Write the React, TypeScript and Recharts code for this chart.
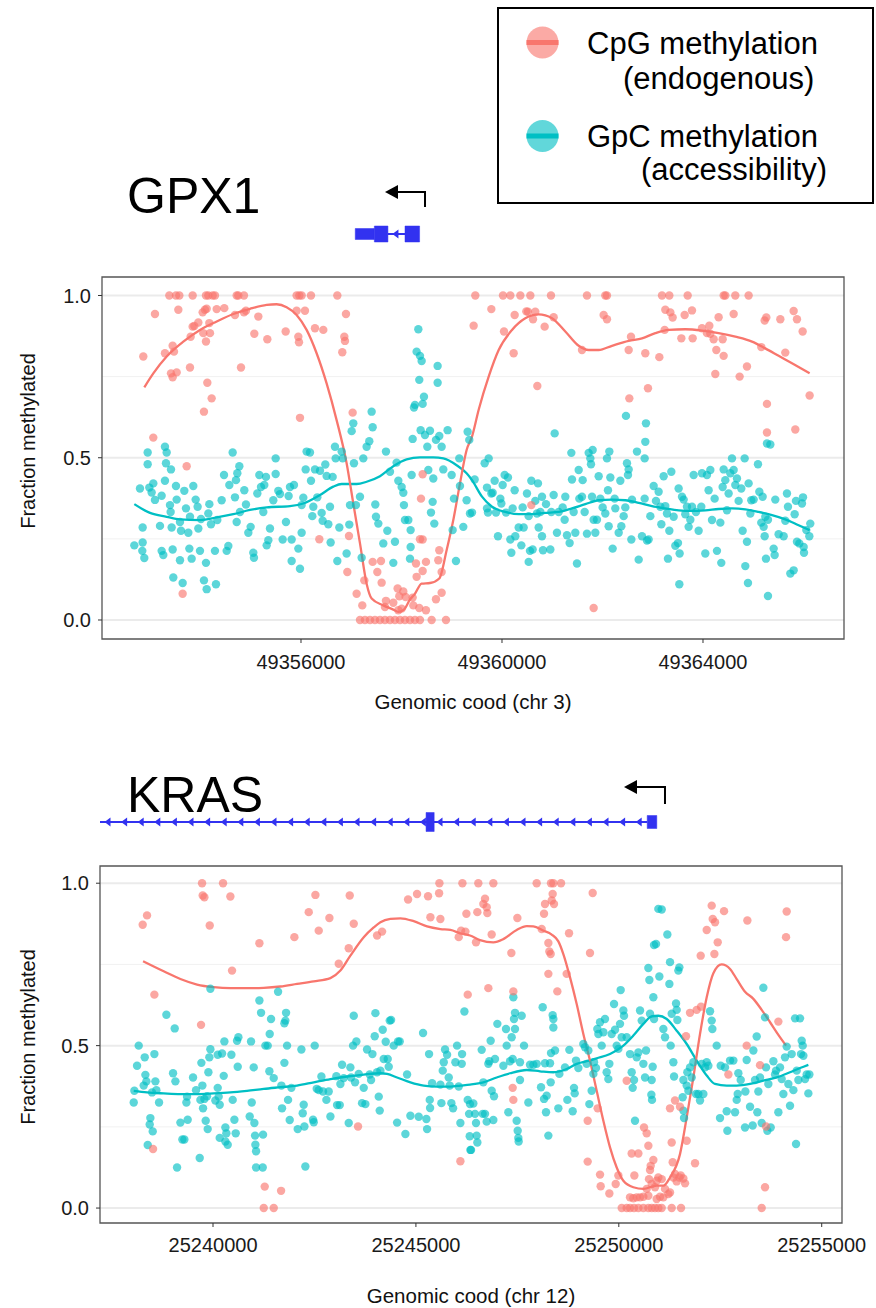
import React from 'react';
import {
  ComposedChart,
  Scatter,
  Line,
  XAxis,
  YAxis,
  CartesianGrid,
  ReferenceArea,
  ReferenceLine,
} from 'recharts';

const RED = '#F8766D';
const TEAL = '#00BFC4';
const GENE = '#3232F0';
const FONT = '"Liberation Sans", Arial, Helvetica, sans-serif';

// ---- GPX1 (chr 3) : [position, fraction methylated] ----
const gpx1Cpg: number[][] = [
  [49353380, 1], [49353512, 1], [49353579, 1], [49353844, 1], [49354109, 1], [49354156, 1], [49354242, 1], [49354288, 1],
  [49354720, 1], [49354753, 1], [49354865, 1], [49355913, 1], [49355967, 1], [49356013, 1], [49356199, 1], [49356723, 1],
  [49353094, 0.943], [49353559, 0.956], [49354043, 0.948], [49354089, 0.956], [49354123, 0.959], [49354322, 0.958],
  [49354474, 0.961], [49354686, 0.94], [49354865, 0.948], [49354905, 0.953], [49355151, 0.935], [49355913, 0.953],
  [49356079, 0.953], [49356895, 0.943], [49353446, 0.845], [49353293, 0.822], [49352862, 0.812], [49353473, 0.827],
  [49353804, 0.873], [49353844, 0.904], [49353877, 0.906], [49353957, 0.917], [49354056, 0.884], [49354109, 0.858],
  [49354176, 0.915], [49354189, 0.884], [49353413, 0.76], [49353446, 0.748], [49353526, 0.763], [49353791, 0.778],
  [49354136, 0.731], [49354222, 0.683], [49354069, 0.642], [49354806, 0.778], [49355071, 0.882], [49355330, 0.865],
  [49355695, 0.889], [49355947, 0.873], [49355960, 0.856], [49356278, 0.899], [49356444, 0.894], [49356862, 0.873],
  [49356875, 0.86], [49356822, 0.825], [49355980, 0.623], [49353061, 0.562], [49353725, 0.474], [49353645, 0.081],
  [49357028, 0.639], [49356955, 0.259], [49356365, 0.249], [49356922, 0.148], [49357260, 0.122], [49357426, 0.179],
  [49357592, 0.182], [49357519, 0.148], [49357605, 0.115], [49357107, 0.081], [49357220, 0.045], [49357691, 0.059],
  [49357671, 0.04], [49357837, 0.053], [49357923, 0.097], [49358036, 0.088], [49357956, 0.073], [49358288, 0.174],
  [49358421, 0.151], [49358487, 0.179], [49358301, 0.133], [49358235, 0.045], [49358354, 0.037], [49358487, 0.03],
  [49357937, 0.03], [49358003, 0.035], [49358082, 0.071], [49358222, 0.069], [49358686, 0.064], [49358752, 0.215],
  [49358732, 0.184], [49358799, 0.148], [49358799, 0.084], [49358421, 0.248], [49358368, 0.249], [49358388, 0.374],
  [49358421, 0.449],
  [49357174, 0], [49357273, 0], [49357373, 0], [49357472, 0], [49357572, 0], [49357671, 0], [49357771, 0], [49357870, 0],
  [49357970, 0], [49358069, 0], [49358169, 0], [49358268, 0], [49358368, 0], [49358600, 0], [49358885, 0],
  [49359469, 1], [49360020, 1], [49360166, 1], [49360365, 1], [49360564, 1], [49360975, 1], [49361691, 1], [49362056, 1],
  [49362089, 1], [49363184, 1], [49363330, 1], [49363695, 1], [49364411, 1], [49364444, 1], [49364643, 1], [49364908, 1],
  [49359436, 0.907], [49359788, 0.958], [49360040, 0.889], [49360252, 0.94], [49360232, 0.822], [49360484, 0.951],
  [49360517, 0.95], [49360617, 0.927], [49360663, 0.95], [49360849, 0.904], [49361028, 0.933], [49360703, 0.721],
  [49361592, 0.832], [49362023, 0.94], [49362089, 0.927], [49362521, 0.832], [49362567, 0.873], [49362534, 0.683],
  [49362852, 0.822], [49362905, 0.714], [49363131, 0.81], [49363250, 0.956], [49363237, 0.894], [49363350, 0.948],
  [49363396, 0.932], [49363569, 0.868], [49363635, 0.94], [49363781, 0.954], [49363794, 0.868], [49363980, 0.899],
  [49364079, 0.884], [49364126, 0.907], [49364146, 0.882], [49364212, 0.865], [49364265, 0.832], [49364311, 0.933],
  [49364391, 0.865], [49364411, 0.814], [49364245, 0.758], [49364610, 0.943], [49364729, 0.75], [49364875, 0.781],
  [49365160, 0.841], [49365227, 0.923], [49365260, 0.932], [49365539, 0.927], [49365638, 0.824], [49365804, 0.952],
  [49365870, 0.927], [49365983, 0.889], [49365273, 0.666], [49365273, 0.578], [49365837, 0.587], [49366122, 0.692],
  [49360584, 0.354], [49361824, 0.037],
];

const gpx1Gpc: number[][] = [
  [49352683, 0.23], [49352849, 0.239], [49352882, 0.191], [49352842, 0.213], [49352849, 0.285], [49352796, 0.405],
  [49352949, 0.516], [49352949, 0.48], [49352982, 0.408], [49353028, 0.393], [49353061, 0.421], [49353094, 0.37],
  [49353227, 0.383], [49353194, 0.29], [49353227, 0.213], [49353260, 0.2], [49353293, 0.534], [49353327, 0.516],
  [49353313, 0.483], [49353293, 0.429], [49353413, 0.464], [49353393, 0.354], [49353406, 0.333], [49353446, 0.217],
  [49353426, 0.285], [49353459, 0.131], [49353512, 0.413], [49353526, 0.371], [49353592, 0.302], [49353612, 0.275],
  [49353592, 0.184], [49353645, 0.114], [49353678, 0.398], [49353711, 0.344], [49353758, 0.269], [49353778, 0.22],
  [49353791, 0.318], [49353824, 0.189], [49353857, 0.413], [49353904, 0.371], [49353943, 0.349], [49353957, 0.282],
  [49353990, 0.213], [49354010, 0.311], [49354069, 0.122], [49354123, 0.095], [49354109, 0.176], [49354156, 0.328],
  [49354176, 0.357], [49354209, 0.295], [49354288, 0.213], [49354308, 0.11], [49354335, 0.308], [49354421, 0.369],
  [49354468, 0.447], [49354521, 0.213], [49354554, 0.228], [49354574, 0.416], [49354640, 0.516], [49354686, 0.378],
  [49354706, 0.431], [49354733, 0.452], [49354773, 0.474], [49354720, 0.302], [49354786, 0.333], [49354872, 0.4],
  [49354905, 0.356], [49354952, 0.269], [49354998, 0.287], [49355051, 0.207], [49355064, 0.192], [49355131, 0.39],
  [49355171, 0.447], [49355204, 0.41], [49355250, 0.333], [49355270, 0.416], [49355303, 0.441], [49355317, 0.23],
  [49355350, 0.246], [49355383, 0.282], [49355449, 0.369], [49355496, 0.498], [49355496, 0.45], [49355549, 0.398],
  [49355582, 0.388], [49355635, 0.248], [49355701, 0.302], [49355754, 0.382], [49355781, 0.41], [49355814, 0.248],
  [49355814, 0.182], [49355860, 0.416], [49355947, 0.22], [49355980, 0.158], [49356013, 0.269], [49356013, 0.354],
  [49356046, 0.377], [49356093, 0.464], [49356112, 0.519], [49356179, 0.516], [49356199, 0.429], [49356225, 0.32],
  [49356245, 0.349], [49356278, 0.464], [49356325, 0.378], [49356378, 0.46], [49356411, 0.33], [49356431, 0.306],
  [49356484, 0.479], [49356510, 0.444], [49356544, 0.295], [49356577, 0.349], [49356590, 0.239], [49356630, 0.441],
  [49356676, 0.534], [49356690, 0.498], [49356723, 0.182], [49356763, 0.285], [49356809, 0.519], [49356829, 0.498],
  [49356961, 0.294], [49356975, 0.354], [49357008, 0.582], [49357041, 0.606], [49357054, 0.483], [49357094, 0.354],
  [49356908, 0.205], [49357207, 0.192], [49357174, 0.38], [49357240, 0.498], [49357306, 0.534], [49357359, 0.551],
  [49357406, 0.642], [49357426, 0.594], [49357479, 0.356], [49357492, 0.318], [49357539, 0.297], [49357638, 0.236],
  [49357691, 0.519], [49357718, 0.275], [49357771, 0.457], [49357837, 0.176], [49357870, 0.241], [49357903, 0.485],
  [49357937, 0.429], [49358003, 0.41], [49358036, 0.392], [49358049, 0.354], [49358069, 0.308], [49358136, 0.308],
  [49358169, 0.189], [49358182, 0.225], [49358202, 0.447], [49358182, 0.277], [49358222, 0.558], [49358248, 0.655],
  [49358268, 0.663], [49358301, 0.827], [49358335, 0.896], [49358368, 0.814], [49358401, 0.798], [49358421, 0.666],
  [49358447, 0.688], [49358354, 0.74], [49358381, 0.585], [49358467, 0.57], [49358514, 0.534], [49358534, 0.462],
  [49358567, 0.583], [49358633, 0.436], [49358620, 0.364], [49358587, 0.331], [49358653, 0.297], [49358686, 0.555],
  [49358719, 0.783], [49358719, 0.731], [49358752, 0.567], [49358799, 0.534], [49358832, 0.464], [49358918, 0.585],
  [49358998, 0.447], [49359018, 0.277], [49359044, 0.374], [49359084, 0.182], [49359150, 0.498], [49359164, 0.413],
  [49359230, 0.287], [49359296, 0.369], [49359316, 0.58], [49359363, 0.328], [49359349, 0.555],
  [49359403, 0.331], [49359456, 0.433], [49359655, 0.483], [49359735, 0.498], [49359701, 0.408], [49359701, 0.344],
  [49359721, 0.331], [49359788, 0.39], [49359814, 0.392], [49359854, 0.429], [49359881, 0.331], [49359920, 0.258],
  [49359967, 0.374], [49359987, 0.359], [49360013, 0.416], [49360053, 0.447], [49360080, 0.331], [49360119, 0.439],
  [49360186, 0.207], [49360166, 0.248], [49360212, 0.344], [49360252, 0.4], [49360265, 0.258], [49360332, 0.285],
  [49360385, 0.23], [49360411, 0.347], [49360431, 0.285], [49360497, 0.39], [49360531, 0.179], [49360557, 0.213],
  [49360531, 0.32], [49360584, 0.429], [49360610, 0.217], [49360663, 0.367], [49360696, 0.328], [49360716, 0.421],
  [49360730, 0.285], [49360763, 0.333], [49360796, 0.258], [49360816, 0.215], [49360796, 0.38], [49360876, 0.357],
  [49360962, 0.217], [49360982, 0.333], [49361028, 0.385], [49361048, 0.575], [49361094, 0.269], [49361128, 0.333],
  [49361207, 0.347], [49361247, 0.309], [49361260, 0.38], [49361293, 0.261], [49361346, 0.237], [49361380, 0.515],
  [49361393, 0.433], [49361426, 0.333], [49361459, 0.269], [49361492, 0.174], [49361526, 0.462], [49361539, 0.374],
  [49361592, 0.38], [49361605, 0.431], [49361645, 0.333], [49361691, 0.266], [49361725, 0.515], [49361758, 0.498],
  [49361771, 0.48], [49361804, 0.524], [49361791, 0.38], [49361824, 0.309], [49361857, 0.269], [49361890, 0.309],
  [49361924, 0.443], [49361957, 0.374], [49362003, 0.347], [49362056, 0.328], [49362089, 0.498], [49362109, 0.4],
  [49362123, 0.289], [49362136, 0.519], [49362156, 0.439], [49362202, 0.22], [49362242, 0.374], [49362255, 0.344],
  [49362322, 0.269], [49362355, 0.429], [49362375, 0.289], [49362421, 0.32], [49362454, 0.347], [49362467, 0.629],
  [49362487, 0.483], [49362507, 0.447], [49362521, 0.464], [49362574, 0.248], [49362587, 0.371], [49362686, 0.519],
  [49362720, 0.186], [49362786, 0.258], [49362839, 0.374], [49362852, 0.549], [49362865, 0.606], [49362839, 0.498],
  [49362885, 0.245], [49362918, 0.248], [49362952, 0.32], [49363018, 0.413], [49363064, 0.367], [49363117, 0.395],
  [49363151, 0.349], [49363171, 0.295], [49363217, 0.443], [49363250, 0.351], [49363283, 0.328], [49363303, 0.189],
  [49363330, 0.275], [49363370, 0.457], [49363416, 0.318], [49363449, 0.229], [49363502, 0.237], [49363515, 0.405],
  [49363535, 0.205], [49363529, 0.11], [49363582, 0.38], [49363615, 0.371], [49363648, 0.326], [49363681, 0.349],
  [49363714, 0.287], [49363748, 0.309], [49363781, 0.349], [49363814, 0.447], [49363860, 0.333], [49363913, 0.275],
  [49363966, 0.349], [49363980, 0.452], [49364046, 0.205], [49364079, 0.447], [49364112, 0.4], [49364146, 0.462],
  [49364179, 0.308], [49364232, 0.374], [49364278, 0.213], [49364345, 0.3], [49364364, 0.176], [49364391, 0.41],
  [49364411, 0.464], [49364444, 0.431], [49364477, 0.338], [49364510, 0.39], [49364544, 0.452], [49364577, 0.498],
  [49364610, 0.462], [49364643, 0.416], [49364676, 0.436], [49364709, 0.367], [49364762, 0.405], [49364789, 0.275],
  [49364829, 0.498], [49364842, 0.166], [49364875, 0.241], [49364895, 0.114], [49364908, 0.421], [49364942, 0.328],
  [49364961, 0.369], [49365008, 0.371], [49365094, 0.48], [49365121, 0.395], [49365160, 0.3], [49365187, 0.38],
  [49365240, 0.318], [49365227, 0.258], [49365253, 0.189], [49365273, 0.544], [49365340, 0.541], [49365293, 0.074],
  [49365406, 0.22], [49365426, 0.2], [49365439, 0.371], [49365505, 0.264], [49365605, 0.258], [49365638, 0.306],
  [49365671, 0.39], [49365691, 0.349], [49365738, 0.143], [49365804, 0.153], [49365824, 0.326], [49365850, 0.367],
  [49365870, 0.241], [49365917, 0.236], [49366003, 0.225], [49365970, 0.359], [49365990, 0.378], [49366010, 0.207],
  [49366056, 0.277], [49366135, 0.297], [49366116, 0.258], [49365293, 0.309], [49365207, 0.287],
];

const gpx1CpgFit: number[][] = [
  [49352882, 0.717], [49353061, 0.76], [49353327, 0.812], [49353658, 0.858], [49353990, 0.894], [49354322, 0.92],
  [49354653, 0.943], [49354985, 0.959], [49355317, 0.971], [49355515, 0.973], [49355714, 0.964], [49355913, 0.94],
  [49356112, 0.894], [49356311, 0.822], [49356510, 0.729], [49356709, 0.616], [49356908, 0.483], [49357041, 0.359],
  [49357174, 0.236], [49357306, 0.112], [49357406, 0.066], [49357638, 0.045], [49357837, 0.032], [49357937, 0.025],
  [49358049, 0.032], [49358169, 0.063], [49358268, 0.081], [49358401, 0.112], [49358567, 0.114], [49358752, 0.128],
  [49358898, 0.215], [49359031, 0.308], [49359164, 0.421], [49359296, 0.524], [49359403, 0.565], [49359536, 0.648],
  [49359735, 0.75], [49359934, 0.832], [49360199, 0.894], [49360464, 0.93], [49360730, 0.942], [49360995, 0.93],
  [49361260, 0.889], [49361526, 0.845], [49361725, 0.832], [49361924, 0.832], [49362189, 0.845], [49362521, 0.86],
  [49362786, 0.868], [49363051, 0.884], [49363316, 0.894], [49363648, 0.896], [49363980, 0.892], [49364311, 0.884],
  [49364643, 0.873], [49364975, 0.858], [49365240, 0.837], [49365505, 0.814], [49365771, 0.791], [49366122, 0.76],
];

const gpx1GpcFit: number[][] = [
  [49352683, 0.357], [49352995, 0.33], [49353327, 0.318], [49353592, 0.31], [49353990, 0.308], [49354322, 0.316],
  [49354653, 0.326], [49354985, 0.339], [49355317, 0.347], [49355781, 0.351], [49356046, 0.359], [49356378, 0.385],
  [49356643, 0.411], [49356809, 0.419], [49357107, 0.419], [49357306, 0.426], [49357572, 0.443], [49357837, 0.474],
  [49358102, 0.495], [49358368, 0.501], [49358633, 0.501], [49358832, 0.498], [49359097, 0.477], [49359296, 0.452],
  [49359403, 0.431], [49359602, 0.38], [49359801, 0.349], [49360066, 0.333], [49360332, 0.326], [49360597, 0.326],
  [49360862, 0.33], [49361128, 0.333], [49361393, 0.344], [49361658, 0.357], [49361924, 0.369], [49362189, 0.371],
  [49362454, 0.369], [49362720, 0.361], [49362985, 0.351], [49363250, 0.344], [49363515, 0.338], [49363781, 0.336],
  [49364046, 0.338], [49364311, 0.342], [49364577, 0.344], [49364842, 0.341], [49365107, 0.333], [49365373, 0.323],
  [49365638, 0.31], [49365903, 0.292], [49366122, 0.277],
];

// ---- KRAS (chr 12) ----
const krasCpg: number[][] = [
  [25238267, 0.872], [25238374, 0.901], [25238555, 0.657], [25238522, 0.182], [25239705, 0.564], [25239730, 1],
  [25239746, 0.962], [25239787, 0.957], [25239919, 0.87], [25240247, 1], [25240428, 0.959], [25240469, 0.731],
  [25241143, 0.815], [25241274, 0.066], [25241250, 0], [25241496, 0], [25241677, 0.053], [25242005, 0.834],
  [25242359, 0.911], [25242523, 0.964], [25242605, 0.854], [25242868, 0.893], [25243098, 0.752], [25243344, 0.8],
  [25243369, 0.962], [25243468, 0.875], [25243574, 0.251], [25244043, 0.839], [25244166, 0.851], [25244807, 0.95],
  [25245028, 0.967], [25245299, 0.96], [25245357, 0.895], [25245603, 0.89], [25245579, 1], [25245571, 0.969],
  [25246146, 1], [25246244, 0.906], [25246055, 0.834], [25246113, 0.854], [25246220, 0.851], [25246277, 0.657],
  [25246096, 0.144],
  [25246538, 1], [25246908, 1], [25247976, 1], [25248329, 1], [25248387, 1], [25248576, 1], [25249356, 0.97],
  [25246703, 0.952], [25246662, 0.936], [25246744, 0.926], [25246514, 0.911], [25246760, 0.908], [25246481, 0.818],
  [25246867, 0.842], [25247500, 0.893], [25247352, 0.785], [25248099, 0.859], [25248181, 0.936], [25248157, 0.906],
  [25248264, 0.816], [25248288, 0.79], [25248321, 0.782], [25248370, 0.967], [25248346, 0.947], [25248403, 0.936],
  [25248773, 0.846], [25248715, 0.721], [25248264, 0.721], [25248485, 0.667], [25249290, 0.785], [25246785, 0.677],
  [25247401, 0.667], [25247385, 0.37], [25247401, 0.333], [25249233, 0.269], [25249479, 0.307], [25249233, 0.143],
  [25249537, 0.103], [25249553, 0.067], [25249767, 0.045], [25249923, 0.074], [25249989, 0.1], [25250194, 0.392],
  [25250383, 0.1], [25250317, 0.168], [25250482, 0.168], [25250621, 0.248], [25250687, 0.23], [25250728, 0.192],
  [25250786, 0.13], [25250851, 0.148], [25250769, 0.117], [25250744, 0.089], [25250810, 0.074], [25250687, 0.059],
  [25250892, 0.064], [25250933, 0.084], [25250974, 0.094], [25251057, 0.089], [25251139, 0.059], [25251098, 0.033],
  [25251221, 0.043], [25251262, 0.048], [25251303, 0.202], [25251328, 0.141], [25251344, 0.094], [25251385, 0.105],
  [25251426, 0.082], [25251492, 0.094], [25251525, 0.1], [25251591, 0.091], [25251632, 0.076], [25251673, 0.207],
  [25251656, 0.529], [25251755, 0.601], [25251919, 0.61], [25252026, 0.62], [25251878, 0.138], [25251262, 0.307],
  [25251385, 0.331], [25251508, 0.312], [25252018, 0.777], [25252166, 0.856], [25252289, 0.931], [25252314, 0.89],
  [25252371, 0.88], [25252437, 0.818], [25252355, 0.782], [25252593, 0.914], [25253168, 0.885], [25254137, 0.913],
  [25254121, 0.834], [25253151, 0.5], [25252700, 0.411], [25253480, 0.44], [25253603, 0.064], [25253521, 0],
  [25253932, 0.574], [25253628, 0.251], [25250276, 0.033], [25250358, 0.03], [25250441, 0.033], [25250523, 0.033],
  [25250605, 0.035], [25250728, 0.038], [25250933, 0.028], [25251016, 0.035],
  [25250071, 0], [25250194, 0], [25250276, 0], [25250375, 0], [25250482, 0], [25250605, 0], [25250728, 0],
  [25250810, 0], [25250892, 0], [25250974, 0], [25251057, 0], [25251303, 0], [25251533, 0],
];

const krasGpc: number[][] = [
  [25238046, 0.325], [25238062, 0.361], [25238128, 0.438], [25238169, 0.5], [25238292, 0.377], [25238317, 0.464],
  [25238333, 0.41], [25238358, 0.39], [25238391, 0.194], [25238440, 0.257], [25238456, 0.277], [25238497, 0.356],
  [25238514, 0.236], [25238555, 0.474], [25238580, 0.39], [25238604, 0.363], [25238670, 0.325], [25238851, 0.595],
  [25239015, 0.415], [25239056, 0.553], [25239073, 0.39], [25239114, 0.125], [25239196, 0.263], [25239245, 0.211],
  [25239294, 0.211], [25239344, 0.325], [25239376, 0.272], [25239360, 0.343], [25239508, 0.402], [25239582, 0.363],
  [25239672, 0.154], [25239689, 0.333], [25239713, 0.447], [25239738, 0.377], [25239754, 0.307], [25239787, 0.336],
  [25239820, 0.269], [25239853, 0.344], [25239869, 0.243], [25239886, 0.418], [25239910, 0.464], [25239935, 0.489],
  [25239935, 0.675], [25240058, 0.331], [25240116, 0.37], [25240116, 0.472], [25240140, 0.343], [25240165, 0.318],
  [25240165, 0.216], [25240223, 0.476], [25240264, 0.407], [25240280, 0.513], [25240305, 0.248], [25240305, 0.205],
  [25240329, 0.23], [25240362, 0.195], [25240453, 0.472], [25240485, 0.333], [25240527, 0.272], [25240559, 0.23],
  [25240609, 0.435], [25240592, 0.515], [25240625, 0.526], [25240904, 0.282], [25240937, 0.513], [25240954, 0.325],
  [25241003, 0.433], [25241019, 0.262], [25241036, 0.223], [25241044, 0.195], [25241061, 0.175], [25241061, 0.125],
  [25241143, 0.639], [25241184, 0.601], [25241225, 0.125], [25241233, 0.226], [25241291, 0.5], [25241348, 0.5],
  [25241397, 0.536], [25241430, 0.582], [25241389, 0.421], [25241496, 0.4], [25241603, 0.666], [25241685, 0.377],
  [25241701, 0.307], [25241759, 0.447], [25241759, 0.569], [25241783, 0.577], [25241800, 0.601], [25241825, 0.5],
  [25241849, 0.333], [25241890, 0.271], [25241931, 0.37], [25242087, 0.243], [25242178, 0.488], [25242211, 0.292],
  [25242235, 0.318], [25242252, 0.251], [25242276, 0.128], [25242465, 0.272], [25242482, 0.264], [25242506, 0.5],
  [25242556, 0.367], [25242605, 0.363], [25242671, 0.405], [25242712, 0.359], [25242794, 0.333], [25242851, 0.359],
  [25242893, 0.282], [25243040, 0.406], [25243057, 0.317], [25243123, 0.317], [25243139, 0.382], [25243180, 0.441],
  [25243221, 0.4], [25243344, 0.262], [25243385, 0.433], [25243402, 0.402], [25243451, 0.5], [25243468, 0.592],
  [25243500, 0.387], [25243533, 0.513], [25243591, 0.413], [25243673, 0.323], [25243714, 0.37], [25243755, 0.32],
  [25243796, 0.488], [25243862, 0.411], [25243895, 0.394], [25243928, 0.474], [25243985, 0.529], [25244002, 0.6],
  [25244043, 0.418], [25244084, 0.343], [25244108, 0.3], [25244125, 0.423], [25244182, 0.549], [25244207, 0.459],
  [25244256, 0.512], [25244305, 0.459], [25244330, 0.435], [25244355, 0.577], [25244388, 0.579], [25244453, 0.5],
  [25244560, 0.513], [25244601, 0.513], [25244536, 0.263], [25244782, 0.411], [25244741, 0.228], [25244864, 0.284],
  [25245069, 0.281], [25245176, 0.539], [25245258, 0.274], [25245275, 0.243], [25245324, 0.474], [25245341, 0.333],
  [25245349, 0.308], [25245398, 0.384], [25245603, 0.38], [25245628, 0.323], [25245661, 0.423], [25245686, 0.449],
  [25245718, 0.488], [25245768, 0.472], [25245809, 0.402], [25245833, 0.377], [25245874, 0.323], [25245916, 0.307],
  [25245973, 0.449], [25246014, 0.5], [25246055, 0.374], [25246096, 0.262], [25246129, 0.444], [25246137, 0.474],
  [25246195, 0.605], [25246277, 0.333], [25246326, 0.221], [25246343, 0.179], [25246310, 0.29],
  [25246333, 0.32], [25246415, 0.322], [25246456, 0.29], [25246481, 0.262], [25246497, 0.223], [25246514, 0.202],
  [25246358, 0.179], [25246645, 0.29], [25246744, 0.266], [25246703, 0.29], [25246621, 0.487], [25246662, 0.387],
  [25246785, 0.444], [25246809, 0.452], [25246842, 0.515], [25246867, 0.361], [25246908, 0.271], [25246924, 0.344],
  [25246949, 0.459], [25247007, 0.567], [25247155, 0.438], [25247220, 0.551], [25247237, 0.5], [25247278, 0.295],
  [25247319, 0.452], [25247360, 0.526], [25247385, 0.459], [25247401, 0.649], [25247417, 0.582], [25247442, 0.601],
  [25247442, 0.551], [25247483, 0.269], [25247508, 0.238], [25247524, 0.216], [25247532, 0.205], [25247565, 0.394],
  [25247565, 0.449], [25247606, 0.592], [25247664, 0.5], [25247771, 0.325], [25247812, 0.441], [25247894, 0.441],
  [25247976, 0.444], [25248083, 0.372], [25248124, 0.618], [25248157, 0.336], [25248181, 0.446], [25248206, 0.295],
  [25248222, 0.346], [25248264, 0.223], [25248305, 0.446], [25248321, 0.387], [25248329, 0.477], [25248370, 0.594],
  [25248387, 0.582], [25248387, 0.556], [25248428, 0.485], [25248510, 0.307], [25248535, 0.413], [25248674, 0.433],
  [25248732, 0.333], [25248781, 0.487], [25248863, 0.298], [25248896, 0.37], [25248913, 0.353], [25248945, 0.454],
  [25249003, 0.431], [25249126, 0.505], [25249167, 0.495], [25249208, 0.444], [25249249, 0.485], [25249274, 0.32],
  [25249331, 0.361], [25249373, 0.413], [25249389, 0.449], [25249438, 0.431], [25249471, 0.551], [25249496, 0.536],
  [25249537, 0.572], [25249578, 0.5], [25249619, 0.541], [25249660, 0.582], [25249701, 0.418], [25249742, 0.397],
  [25249767, 0.444], [25249824, 0.536], [25249882, 0.628], [25249907, 0.549], [25249948, 0.5], [25249989, 0.49],
  [25250030, 0.567], [25250046, 0.671], [25250071, 0.526], [25250112, 0.608], [25250128, 0.592], [25250194, 0.526],
  [25250276, 0.474], [25250317, 0.418], [25250342, 0.37], [25250375, 0.394], [25250399, 0.269], [25250441, 0.464],
  [25250482, 0.479], [25250523, 0.608], [25250564, 0.577], [25250605, 0.444], [25250646, 0.402], [25250671, 0.485],
  [25250728, 0.739], [25250753, 0.702], [25250769, 0.598], [25250810, 0.394], [25250835, 0.435], [25250851, 0.649],
  [25250868, 0.582], [25250802, 0.349], [25250818, 0.333], [25250868, 0.81], [25250917, 0.813], [25250999, 0.713],
  [25250974, 0.921], [25251057, 0.919], [25251098, 0.551], [25251139, 0.526], [25251196, 0.842], [25251246, 0.69],
  [25251262, 0.757], [25251278, 0.5], [25251303, 0.598], [25251344, 0.449], [25251361, 0.405], [25251410, 0.63],
  [25251426, 0.61], [25251443, 0.579], [25251467, 0.731], [25251492, 0.741], [25251591, 0.394], [25251574, 0.341],
  [25251591, 0.3], [25251607, 0.277], [25251673, 0.377], [25251689, 0.418], [25251714, 0.361], [25251755, 0.433],
  [25251796, 0.402], [25251837, 0.449], [25251903, 0.351], [25251960, 0.351], [25252001, 0.331], [25252042, 0.444],
  [25252084, 0.351], [25252125, 0.433], [25252166, 0.449], [25252207, 0.438], [25252248, 0.606], [25252289, 0.577],
  [25252305, 0.551], [25252412, 0.5], [25252494, 0.277], [25252511, 0.438], [25252617, 0.433], [25252659, 0.298],
  [25252675, 0.238], [25252741, 0.454], [25252823, 0.454], [25252864, 0.295], [25252905, 0.333], [25252930, 0.351],
  [25252946, 0.415], [25253004, 0.394], [25253110, 0.248], [25253119, 0.359], [25253151, 0.456], [25253234, 0.312],
  [25253299, 0.254], [25253316, 0.485], [25253357, 0.394], [25253398, 0.528], [25253414, 0.295], [25253439, 0.359],
  [25253480, 0.402], [25253521, 0.262], [25253562, 0.678], [25253603, 0.587], [25253628, 0.433], [25253661, 0.238],
  [25253685, 0.382], [25253743, 0.248], [25253809, 0.452], [25253850, 0.411], [25253874, 0.423], [25253932, 0.295],
  [25253973, 0.433], [25254014, 0.397], [25254055, 0.351], [25254096, 0.464], [25254137, 0.497], [25254178, 0.382],
  [25254219, 0.315], [25254260, 0.474], [25254302, 0.363], [25254343, 0.584], [25254367, 0.197], [25254384, 0.423],
  [25254425, 0.394], [25254466, 0.584], [25254490, 0.474], [25254507, 0.515], [25254532, 0.5], [25254548, 0.469],
  [25254589, 0.397], [25254630, 0.411], [25254671, 0.353], [25254696, 0.411],
];

const krasCpgFit: number[][] = [
  [25238276, 0.76], [25238785, 0.729], [25239196, 0.705], [25239607, 0.688], [25240017, 0.68], [25240428, 0.677],
  [25240839, 0.677], [25241250, 0.678], [25241660, 0.682], [25242071, 0.69], [25242482, 0.698], [25242893, 0.708],
  [25243139, 0.731], [25243385, 0.777], [25243714, 0.834], [25243960, 0.864], [25244125, 0.88], [25244371, 0.89],
  [25244618, 0.892], [25244946, 0.883], [25245275, 0.867], [25245603, 0.859], [25245850, 0.856], [25246096, 0.846],
  [25246333, 0.839], [25246579, 0.825], [25246908, 0.818], [25247155, 0.828], [25247483, 0.856], [25247730, 0.868],
  [25247894, 0.867], [25248140, 0.854], [25248346, 0.842], [25248510, 0.821], [25248633, 0.782], [25248798, 0.71],
  [25248962, 0.628], [25249126, 0.536], [25249290, 0.454], [25249455, 0.361], [25249619, 0.269], [25249783, 0.187],
  [25249948, 0.125], [25250112, 0.084], [25250358, 0.064], [25250605, 0.059], [25250933, 0.069], [25251098, 0.069],
  [25251262, 0.094], [25251508, 0.166], [25251673, 0.279], [25251837, 0.402], [25252001, 0.536], [25252166, 0.649],
  [25252330, 0.723], [25252535, 0.75], [25252741, 0.736], [25252905, 0.705], [25253110, 0.666], [25253316, 0.644],
  [25253521, 0.61], [25253727, 0.572], [25253932, 0.533], [25254121, 0.5],
];

const krasGpcFit: number[][] = [
  [25238046, 0.361], [25238374, 0.356], [25238785, 0.353], [25239196, 0.351], [25239607, 0.351], [25240017, 0.353],
  [25240428, 0.356], [25240839, 0.361], [25241250, 0.367], [25241660, 0.372], [25242071, 0.377], [25242482, 0.387],
  [25242893, 0.397], [25243303, 0.405], [25243714, 0.411], [25244125, 0.415], [25244289, 0.413], [25244536, 0.402],
  [25244864, 0.387], [25245193, 0.377], [25245521, 0.374], [25245850, 0.374], [25246096, 0.377], [25246333, 0.38],
  [25246662, 0.387], [25246990, 0.402], [25247319, 0.415], [25247730, 0.425], [25248058, 0.421], [25248387, 0.418],
  [25248715, 0.428], [25248962, 0.444], [25249208, 0.452], [25249455, 0.461], [25249783, 0.474], [25250112, 0.5],
  [25250358, 0.531], [25250605, 0.567], [25250810, 0.59], [25250974, 0.592], [25251180, 0.582], [25251426, 0.546],
  [25251673, 0.505], [25251919, 0.454], [25252166, 0.408], [25252371, 0.382], [25252659, 0.377], [25252905, 0.377],
  [25253234, 0.382], [25253562, 0.392], [25253891, 0.402], [25254219, 0.418], [25254466, 0.431], [25254671, 0.441],
];

// axis ticks
const yTicks = [0, 0.5, 1];
const gpx1Ticks = [49356000, 49360000, 49364000];
const krasTicks = [25240000, 25245000, 25250000, 25255000];

// gene models: [start, end, half-height]
const gpx1Exons: number[][] = [
  [49357080, 49357460, 0.11],
  [49357460, 49357730, 0.16],
  [49358070, 49358360, 0.16],
];
const gpx1Intron = [49357730, 49358070];
const gpx1Tss = [49358468, 49357672]; // elbow x, arrow tip
const krasExons: number[][] = [
  [25245250, 25245450, 0.19],
  [25250700, 25250936, 0.13],
];
const krasIntron = [25237215, 25250700];
const krasTss = [25251138, 25250128];

const toPts = (arr: number[][]) => arr.map(([pos, frac]) => ({ pos, frac }));

const dot = (color: string) => (p: any) =>
  <circle cx={p.cx} cy={p.cy} r={4.2} fill={color} fillOpacity={0.64} />;

const tickStyle = { fontSize: 20, fill: '#1a1a1a', fontFamily: FONT };

const Panel = ({ top, height, mTop, mBottom, mRight, yWidth, xDomain, yDomain, xTicks, cpg, gpc, cpgFit, gpcFit, xLabel, labelOffset, tickMargin }: any) => (
  <div style={{ position: 'absolute', top, left: 0 }}>
    <ComposedChart width={876} height={height} margin={{ top: mTop, right: mRight, bottom: mBottom, left: 0 }}>
      <CartesianGrid vertical={false} horizontalValues={[0.25, 0.75]} stroke="#F1F1F1" strokeWidth={1} />
      <CartesianGrid vertical={false} horizontalValues={[0, 0.5, 1]} stroke="#EBEBEB" strokeWidth={2} />
      <XAxis
        type="number"
        dataKey="pos"
        domain={xDomain}
        allowDataOverflow
        ticks={xTicks}
        interval={0}
        tickFormatter={(v: number) => String(v)}
        tick={tickStyle}
        tickSize={4}
        tickMargin={tickMargin}
        tickLine={{ stroke: '#333' }}
        axisLine={false}
        height={30}
        label={{ value: xLabel, position: 'bottom', offset: labelOffset, style: { fontSize: 20.5, fill: '#111', fontFamily: FONT } }}
      />
      <YAxis
        type="number"
        dataKey="frac"
        domain={yDomain}
        allowDataOverflow
        ticks={yTicks}
        tickFormatter={(v: number) => v.toFixed(1)}
        tick={tickStyle}
        tickSize={4}
        tickMargin={7}
        tickLine={{ stroke: '#333' }}
        axisLine={false}
        width={yWidth}
      />
      <ReferenceArea x1={xDomain[0]} x2={xDomain[1]} y1={yDomain[0]} y2={yDomain[1]} fill="none" stroke="#555" strokeWidth={1.3} ifOverflow="visible" />
      <Scatter data={toPts(gpc)} shape={dot(TEAL)} isAnimationActive={false} />
      <Scatter data={toPts(cpg)} shape={dot(RED)} isAnimationActive={false} />
      <Line data={toPts(gpcFit)} dataKey="frac" type="monotone" stroke={TEAL} strokeWidth={2.3} dot={false} isAnimationActive={false} />
      <Line data={toPts(cpgFit)} dataKey="frac" type="monotone" stroke={RED} strokeWidth={2.3} dot={false} isAnimationActive={false} />
    </ComposedChart>
  </div>
);

const intronShape = (p: any) => {
  const { x1, y1, x2 } = p;
  const marks: number[] = [];
  for (let x = x1 + 8; x < x2 - 3; x += 16.6) marks.push(x);
  return (
    <g>
      <line x1={x1} y1={y1} x2={x2} y2={y1} stroke={GENE} strokeWidth={2} />
      {marks.map((x, i) => (
        <path key={i} d={`M${x - 3.5},${y1} L${x + 2.5},${y1 - 4.5} L${x + 2.5},${y1 + 4.5} Z`} fill={GENE} />
      ))}
    </g>
  );
};

const tssShape = (p: any) => {
  const { x1, y1, x2, y2 } = p;
  return (
    <g>
      <path d={`M${x1},${y1} V${y2} H${x2 + 10}`} stroke="#000" strokeWidth={2} fill="none" />
      <path d={`M${x2},${y2} L${x2 + 13},${y2 - 7} L${x2 + 13},${y2 + 7} Z`} fill="#000" />
    </g>
  );
};

const GeneTrack = ({ top, left, right, xDomain, exons, intron, tss, tssLow, tssHigh }: any) => (
  <div style={{ position: 'absolute', top, left: 0 }}>
    <ComposedChart width={876} height={100} margin={{ top: 0, right, bottom: 0, left }}>
      <XAxis type="number" dataKey="pos" domain={xDomain} allowDataOverflow hide />
      <YAxis type="number" dataKey="y" domain={[-1, 1]} allowDataOverflow hide />
      <Scatter data={[{ pos: intron[0], y: 0 }]} shape={() => <g />} isAnimationActive={false} />
      <ReferenceLine segment={[{ x: intron[0], y: 0 }, { x: intron[1], y: 0 }]} shape={intronShape} ifOverflow="visible" />
      {exons.map(([s, e, h]: number[], i: number) => (
        <ReferenceArea key={i} x1={s} x2={e} y1={-h} y2={h} fill={GENE} fillOpacity={1} stroke={GENE} strokeWidth={0.5} ifOverflow="visible" />
      ))}
      <ReferenceLine segment={[{ x: tss[0], y: tssLow }, { x: tss[1], y: tssHigh }]} shape={tssShape} ifOverflow="visible" />
    </ComposedChart>
  </div>
);

const Overlay = () => (
  <svg width={876} height={1308} style={{ position: 'absolute', top: 0, left: 0, pointerEvents: 'none' }} fontFamily={FONT}>
    <text x={127} y={213} fontSize={50} fill="#000">GPX1</text>
    <text x={127} y={812} fontSize={50} fill="#000">KRAS</text>
    <text x={35} y={441} transform="rotate(-90, 35, 441)" textAnchor="middle" fontSize={20} fill="#111">Fraction methylated</text>
    <text x={35} y={1037} transform="rotate(-90, 35, 1037)" textAnchor="middle" fontSize={20} fill="#111">Fraction methylated</text>
    <rect x={498} y={8} width={375} height={195} fill="#fff" stroke="#000" strokeWidth={2} />
    <circle cx={542.5} cy={42.5} r={16} fill={RED} fillOpacity={0.62} />
    <line x1={526.5} y1={42.5} x2={558.5} y2={42.5} stroke={RED} strokeWidth={5} />
    <text x={587} y={54} fontSize={31} fill="#000">CpG methylation</text>
    <text x={623} y={89} fontSize={31} fill="#000">(endogenous)</text>
    <circle cx={542.5} cy={136} r={16} fill={TEAL} fillOpacity={0.62} />
    <line x1={526.5} y1={136} x2={558.5} y2={136} stroke={TEAL} strokeWidth={5} />
    <text x={587} y={147} fontSize={31} fill="#000">GpC methylation</text>
    <text x={641} y={180} fontSize={31} fill="#000">(accessibility)</text>
  </svg>
);

export default function App() {
  const gpx1Domain = [49352040, 49366806];
  const krasDomain = [25237215, 25255500];
  return (
    <div style={{ position: 'absolute', top: 0, left: 0, width: 876, height: 1308, background: '#fff', fontFamily: FONT }}>
      <GeneTrack top={184} left={102} right={32} xDomain={gpx1Domain} exons={gpx1Exons} intron={gpx1Intron} tss={gpx1Tss} tssLow={0.54} tssHigh={0.84} />
      <Panel
        top={0} height={720} mTop={277} mBottom={51} mRight={32} yWidth={102}
        xDomain={gpx1Domain} yDomain={[-0.0586, 1.057]} xTicks={gpx1Ticks}
        cpg={gpx1Cpg} gpc={gpx1Gpc} cpgFit={gpx1CpgFit} gpcFit={gpx1GpcFit}
        xLabel="Genomic cood (chr 3)" labelOffset={25} tickMargin={12}
      />
      <GeneTrack top={772} left={100} right={34} xDomain={krasDomain} exons={krasExons} intron={krasIntron} tss={krasTss} tssLow={0.36} tssHigh={0.7} />
      <Panel
        top={760} height={548} mTop={106} mBottom={55} mRight={34} yWidth={100}
        xDomain={krasDomain} yDomain={[-0.046, 1.053]} xTicks={krasTicks}
        cpg={krasCpg} gpc={krasGpc} cpgFit={krasCpgFit} gpcFit={krasGpcFit}
        xLabel="Genomic cood (chr 12)" labelOffset={35} tickMargin={11}
      />
      <Overlay />
    </div>
  );
}
